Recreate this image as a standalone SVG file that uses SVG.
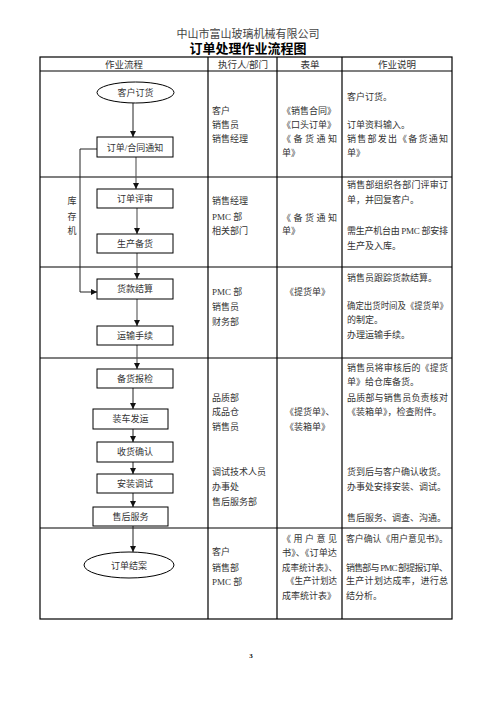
<svg xmlns="http://www.w3.org/2000/svg" width="496" height="702" viewBox="0 0 496 702">
<style>
.t{font-family:"Liberation Serif","Noto Sans CJK SC",serif;font-size:9px;fill:#333}
.h{font-family:"Liberation Serif","Noto Sans CJK SC",serif;font-size:9.5px;fill:#333;text-anchor:middle}
.c{text-anchor:middle}
.grid{stroke:#000;stroke-width:1.2;fill:none}
.box{fill:#fff;stroke:#000;stroke-width:1}
.con{stroke:#222;stroke-width:1;fill:none}
.trunk{stroke:#555;stroke-width:1.1;fill:none}
</style>
<defs>
<marker id="arr" markerUnits="userSpaceOnUse" markerWidth="6" markerHeight="6" refX="6" refY="3" orient="auto">
<path d="M0,0 L6,3 L0,6 z" fill="#111"/>
</marker>
</defs>
<rect width="496" height="702" fill="#fff"/>
<g id="title">
<text x="248" y="38" text-anchor="middle" style="font-family:'Liberation Serif','Noto Sans CJK SC',serif;font-size:11px;fill:#444">中山市富山玻璃机械有限公司</text>
<text x="248" y="53" text-anchor="middle" style="font-family:'Liberation Serif','Noto Sans CJK SC',serif;font-size:13px;font-weight:bold;fill:#000">订单处理作业流程图</text>
</g>
<g id="table">
<rect class="grid" x="40" y="57" width="412" height="562"/>
<path class="grid" d="M40,71H452M40,177H452M40,267H452M40,358H452M40,528H452M208,57V619M277,57V619M342,57V619"/>
<text class="h" x="124" y="67.5">作业流程</text>
<text class="h" x="243" y="67.5">执行人/部门</text>
<text class="h" x="310" y="67.5">表单</text>
<text class="h" x="397" y="67.5">作业说明</text>
</g>
<g id="connectors">
<path class="con" d="M133,103V137" marker-end="url(#arr)"/>
<path class="trunk" d="M136,157V189" marker-end="url(#arr)"/>
<path class="trunk" d="M137,208V234" marker-end="url(#arr)"/>
<path class="trunk" d="M137,253V279" marker-end="url(#arr)"/>
<path class="trunk" d="M137,299V326" marker-end="url(#arr)"/>
<path class="trunk" d="M137,345V369" marker-end="url(#arr)"/>
<path class="con" d="M133,388V409" marker-end="url(#arr)"/>
<path class="con" d="M133,429V442" marker-end="url(#arr)"/>
<path class="con" d="M133,462V474" marker-end="url(#arr)"/>
<path class="con" d="M133,493V507" marker-end="url(#arr)"/>
<path class="con" d="M133,526V552" marker-end="url(#arr)"/>
<path class="con" d="M97,149H80V292H97" marker-end="url(#arr)"/>
</g>
<g id="n1"><ellipse class="box" cx="135.5" cy="92.5" rx="38.5" ry="10.5"/><text class="t c" x="135.5" y="96">客户订货</text></g>
<g id="n2"><rect class="box" x="97" y="137" width="76" height="20"/><text class="t c" x="135" y="150.5">订单/合同通知</text></g>
<g id="n3"><rect class="box" x="97" y="189" width="76" height="19"/><text class="t c" x="135" y="201.5">订单评审</text></g>
<g id="n4"><rect class="box" x="97" y="234" width="76" height="19"/><text class="t c" x="135" y="246.5">生产备货</text></g>
<g id="n5"><rect class="box" x="97" y="279" width="76" height="20"/><text class="t c" x="135" y="292">货款结算</text></g>
<g id="n6"><rect class="box" x="97" y="326" width="76" height="19"/><text class="t c" x="135" y="338.5">运输手续</text></g>
<g id="n7"><rect class="box" x="97" y="369" width="76" height="19"/><text class="t c" x="135" y="381.5">备货报检</text></g>
<g id="n8"><rect class="box" x="93" y="409" width="75" height="20"/><text class="t c" x="130.5" y="422">装车发运</text></g>
<g id="n9"><rect class="box" x="97" y="442" width="76" height="20"/><text class="t c" x="135" y="455">收货确认</text></g>
<g id="n10"><rect class="box" x="97" y="474" width="76" height="19"/><text class="t c" x="135" y="486.5">安装调试</text></g>
<g id="n11"><rect class="box" x="93" y="507" width="75" height="19"/><text class="t c" x="130.5" y="519.5">售后服务</text></g>
<g id="n12"><ellipse class="box" cx="129" cy="565" rx="45" ry="13"/><text class="t c" x="129" y="568.5">订单结案</text></g>
<g id="side">
<text class="t c" x="72" y="204">库</text>
<text class="t c" x="72" y="219.5">存</text>
<text class="t c" x="72" y="234">机</text>
</g>
<g id="row1">
<text class="t" x="212" y="114">客户</text>
<text class="t" x="212" y="128">销售员</text>
<text class="t" x="212" y="142">销售经理</text>
<text class="t" x="282" y="114">《销售合同》</text>
<text class="t" x="282" y="128">《口头订单》</text>
<text class="t" x="282" y="142" textLength="55" lengthAdjust="spacing">《备货通知</text>
<text class="t" x="282" y="156">单》</text>
<text class="t" x="347" y="100">客户订货。</text>
<text class="t" x="347" y="128">订单资料输入。</text>
<text class="t" x="347" y="142" textLength="101" lengthAdjust="spacing">销售部发出《备货通知</text>
<text class="t" x="347" y="156">单》</text>
</g>
<g id="row2">
<text class="t" x="212" y="204">销售经理</text>
<text class="t" x="212" y="219.5">PMC 部</text>
<text class="t" x="212" y="234">相关部门</text>
<text class="t" x="282" y="220.5" textLength="55" lengthAdjust="spacing">《备货通知</text>
<text class="t" x="282" y="234">单》</text>
<text class="t" x="347" y="188" textLength="101" lengthAdjust="spacing">销售部组织各部门评审订</text>
<text class="t" x="347" y="203">单，并回复客户。</text>
<text class="t" x="347" y="234" textLength="101" lengthAdjust="spacing">需生产机台由 PMC 部安排</text>
<text class="t" x="347" y="249">生产及入库。</text>
</g>
<g id="row3">
<text class="t" x="212" y="294.5">PMC 部</text>
<text class="t" x="212" y="309.5">销售员</text>
<text class="t" x="212" y="324.5">财务部</text>
<text class="t" x="285" y="294.5">《提货单》</text>
<text class="t" x="347" y="281">销售员跟踪货款结算。</text>
<text class="t" x="347" y="308.5" textLength="101" lengthAdjust="spacingAndGlyphs">确定出货时间及《提货单》</text>
<text class="t" x="347" y="323">的制定。</text>
<text class="t" x="347" y="338">办理运输手续。</text>
</g>
<g id="row4">
<text class="t" x="212" y="400.5">品质部</text>
<text class="t" x="212" y="415">成品仓</text>
<text class="t" x="212" y="429.5">销售员</text>
<text class="t" x="212" y="475">调试技术人员</text>
<text class="t" x="212" y="490">办事处</text>
<text class="t" x="212" y="504.5">售后服务部</text>
<text class="t" x="285" y="415">《提货单》、</text>
<text class="t" x="285" y="429.5">《装箱单》</text>
<text class="t" x="347" y="370.5" textLength="101" lengthAdjust="spacing">销售员将审核后的《提货</text>
<text class="t" x="347" y="385">单》给仓库备货。</text>
<text class="t" x="347" y="400.5" textLength="101" lengthAdjust="spacing">品质部与销售员负责核对</text>
<text class="t" x="347" y="415">《装箱单》，检查附件。</text>
<text class="t" x="347" y="475">货到后与客户确认收货。</text>
<text class="t" x="347" y="490">办事处安排安装、调试。</text>
<text class="t" x="347" y="520.5">售后服务、调查、沟通。</text>
</g>
<g id="row5">
<text class="t" x="212" y="555">客户</text>
<text class="t" x="212" y="570.5">销售部</text>
<text class="t" x="212" y="585">PMC 部</text>
<text class="t" x="282" y="542" textLength="55" lengthAdjust="spacing">《用户意见</text>
<text class="t" x="282" y="556" textLength="55" lengthAdjust="spacingAndGlyphs">书》、《订单达</text>
<text class="t" x="282" y="570.5" textLength="55" lengthAdjust="spacingAndGlyphs">成率统计表》、</text>
<text class="t" x="286" y="584" textLength="51" lengthAdjust="spacingAndGlyphs">《生产计划达</text>
<text class="t" x="282" y="598.5">成率统计表》</text>
<text class="t" x="346" y="542" textLength="102" lengthAdjust="spacingAndGlyphs">客户确认《用户意见书》。</text>
<text class="t" x="346" y="570.5" textLength="102" lengthAdjust="spacing">销售部与 PMC 部提报订单、</text>
<text class="t" x="346" y="584" textLength="102" lengthAdjust="spacing">生产计划达成率，进行总</text>
<text class="t" x="346" y="598.5">结分析。</text>
</g>
<g id="page"><text x="251" y="658" text-anchor="middle" style="font-family:'Liberation Serif',serif;font-size:7px;font-weight:bold;fill:#000">3</text></g>
</svg>
